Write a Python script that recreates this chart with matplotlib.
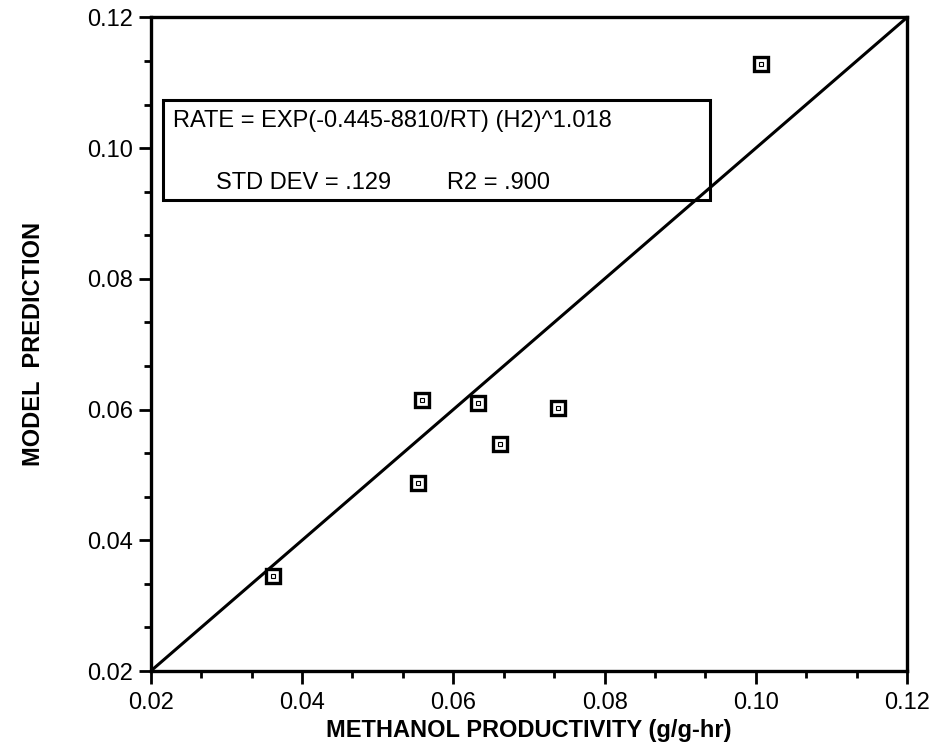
import numpy as np
import matplotlib.pyplot as plt

# measured vs predicted methanol productivity
measured = [0.0361, 0.0558, 0.0554, 0.0633, 0.0662, 0.0739, 0.1007]
predicted = [0.0345, 0.0615, 0.0487, 0.0610, 0.0547, 0.0602, 0.1128]
parity = [0.02, 0.12]
ticks = [0.02, 0.04, 0.06, 0.08, 0.10, 0.12]
tick_labels = ['0.02', '0.04', '0.06', '0.08', '0.10', '0.12']

plt.rcParams['font.family'] = ['Liberation Sans', 'DejaVu Sans']

fig = plt.figure(figsize=(9.42, 7.54), dpi=100)
ax = fig.add_axes([0.160, 0.110, 0.803, 0.867])

ax.plot(parity, parity, color='black', lw=2.2)
ax.plot(measured, predicted, 's', ms=10, mfc='white', mec='black', mew=2.4, ls='none')
ax.plot(measured, predicted, 's', ms=2.5, mfc='white', mec='black', mew=0.8, ls='none')

ax.set_xlim(0.02, 0.12)
ax.set_ylim(0.02, 0.12)
ax.set_xticks(ticks)
ax.set_xticklabels(tick_labels)
ax.set_yticks(ticks)
ax.set_yticklabels(tick_labels)
minor = [t + d for t in ticks[:-1] for d in (0.02 / 3, 0.04 / 3)]
ax.set_xticks(minor, minor=True)
ax.set_yticks(minor, minor=True)
ax.tick_params(which='major', direction='out', length=9, width=2, labelsize=17)
ax.tick_params(which='minor', direction='out', length=5, width=2)
ax.tick_params(axis='x', pad=6)
ax.tick_params(axis='y', pad=4)
for s in ax.spines.values():
    s.set_linewidth(2.4)

ax.set_xlabel('METHANOL PRODUCTIVITY (g/g-hr)', fontsize=17, fontweight='bold', labelpad=4)
ax.set_ylabel('MODEL  PREDICTION', fontsize=17, fontweight='bold', labelpad=30)

# equation box
ax.add_patch(plt.Rectangle((0.0216, 0.0920), 0.0723, 0.0154, fill=False,
                           edgecolor='black', lw=2.2, zorder=3))
ax.text(0.0229, 0.1041, 'RATE = EXP(-0.445-8810/RT) (H2)^1.018', fontsize=17,
        va='center', ha='left')
ax.text(0.0286, 0.0947, 'STD DEV = .129', fontsize=17, va='center', ha='left')
ax.text(0.0592, 0.0947, 'R2 = .900', fontsize=17, va='center', ha='left')

fig.savefig('out.png', dpi=100)
